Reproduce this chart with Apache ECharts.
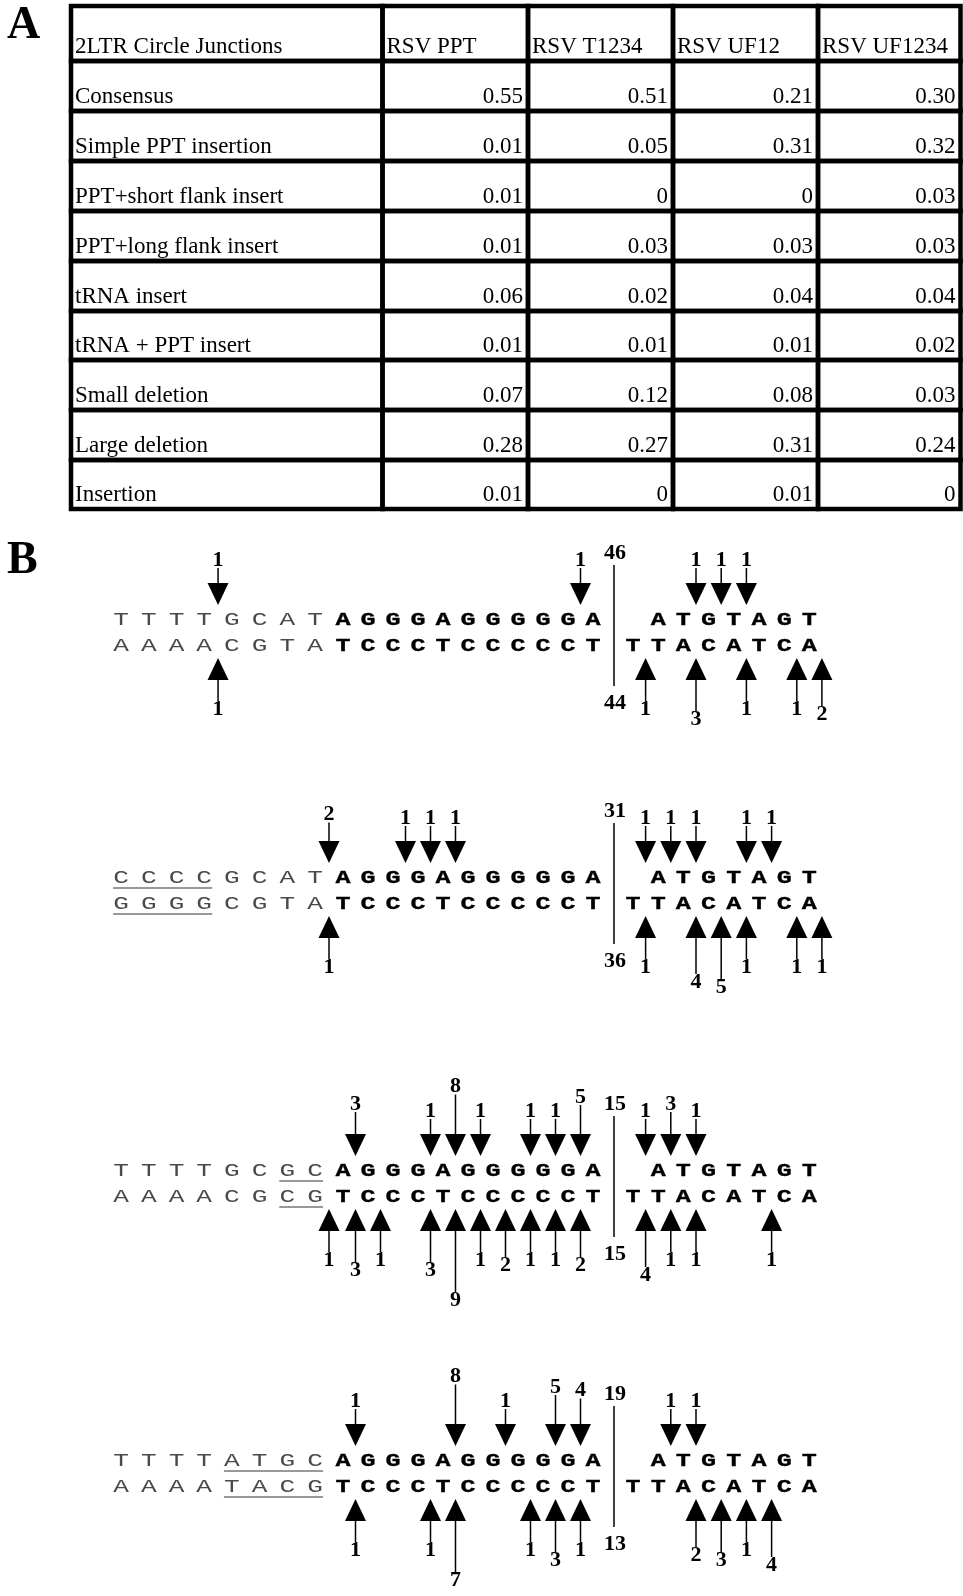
<!DOCTYPE html>
<html>
<head>
<meta charset="utf-8">
<script src="https://cdn.jsdelivr.net/npm/echarts@6/dist/echarts.min.js"></script>
<style>
html,body{margin:0;padding:0;background:#fff;}
#chart{width:963px;height:1596px;}
</style>
</head>
<body>
<div id="chart"></div>
<script>
// ================= DATA =================
// Panel A : fraction of 2-LTR circle junction types
const tableCorner = '2LTR Circle Junctions';
const strains = ['RSV PPT', 'RSV T1234', 'RSV UF12', 'RSV UF1234'];
const junctionTypes = ['Consensus', 'Simple PPT insertion', 'PPT+short flank insert', 'PPT+long flank insert',
  'tRNA insert', 'tRNA + PPT insert', 'Small deletion', 'Large deletion', 'Insertion'];
const rsvPPT    = [0.55, 0.01, 0.01, 0.01, 0.06, 0.01, 0.07, 0.28, 0.01];
const rsvT1234  = [0.51, 0.05, 0,    0.03, 0.02, 0.01, 0.12, 0.27, 0];
const rsvUF12   = [0.21, 0.31, 0,    0.03, 0.04, 0.01, 0.08, 0.31, 0.01];
const rsvUF1234 = [0.30, 0.32, 0.03, 0.03, 0.04, 0.02, 0.03, 0.24, 0];

// Panel B : junction sequences (slots 0-7 flank, 8-18 PPT, 19-26 U3)
const flankTop    = ['TTTTGCAT', 'CCCCGCAT', 'TTTTGCGC', 'TTTTATGC'];
const flankBottom = ['AAAACGTA', 'GGGGCGTA', 'AAAACGCG', 'AAAATACG'];
const pptTop    = 'AGGGAGGGGGA';
const pptBottom = 'TCCCTCCCCCT';
const u3Top     = 'ATGTAGT';
const u3Bottom  = 'TTACATCA';
const underlinedFlank = [null, [0, 3], [6, 7], [4, 7]];
const junctionCountTop    = [46, 31, 15, 19];
const junctionCountBottom = [44, 36, 15, 13];
// [site, count]; site g lies between slot g-1 and slot g
const cutsTop = [
  [[4,1],[18,1],[22,1],[23,1],[24,1]],
  [[8,2],[11,1],[12,1],[13,1],[20,1],[21,1],[22,1],[24,1],[25,1]],
  [[9,3],[12,1],[13,8],[14,1],[16,1],[17,1],[18,5],[20,1],[21,3],[22,1]],
  [[9,1],[13,8],[15,1],[17,5],[18,4],[21,1],[22,1]]
];
const cutsBottom = [
  [[4,1],[20,1],[22,3],[24,1],[26,1],[27,2]],
  [[8,1],[20,1],[22,4],[23,5],[24,1],[26,1],[27,1]],
  [[8,1],[9,3],[10,1],[12,3],[13,9],[14,1],[15,2],[16,1],[17,1],[18,2],[20,4],[21,1],[22,1],[25,1]],
  [[9,1],[12,1],[13,7],[16,1],[17,3],[18,1],[22,2],[23,3],[24,1],[25,4]]
];

// ================= LAYOUT / STYLE =================
const SERIF = '"Liberation Serif","Times New Roman",Times,serif';
const MONO = '"Liberation Mono","Courier New",Courier,monospace';
const TABLE_BOX = {left: 71, top: 6};
const TABLE_COL_W = [311.5, 145.5, 145, 145, 142.5];
const TABLE_ROW_H = [55, 50, 50, 50, 50, 50, 49, 50, 50, 49];
const PANEL_TOPS = [620, 878, 1171, 1461];
const STRAND_GAP = 26;
const X_MIN = -5.72, X_MAX = 32.8;   // axis unit = one PPT slot
const BAR_X = 18.84;
function slotX(s) {
  if (s <= 7) return 6.88 - 1.108 * (7 - s);
  if (s <= 18) return s;
  return 19.6 + 1.008 * (s - 19);
}
function siteX(g) { return g >= 27 ? slotX(26) + 0.5 : (slotX(g - 1) + slotX(g)) / 2; }
function cumulative(a) { const r = [0]; a.forEach(v => r.push(r[r.length - 1] + v)); return r; }
const colEdges = cumulative(TABLE_COL_W);
const rowEdges = cumulative(TABLE_ROW_H);

// ================= BUILD =================
const valueCols = [rsvPPT, rsvT1234, rsvUF12, rsvUF1234];
const fmt = v => v === 0 ? '0' : v.toFixed(2);
const cells = [];
for (let r = 0; r <= junctionTypes.length; r++) {
  for (let c = 0; c <= strains.length; c++) {
    let text, align;
    if (r === 0) { text = c === 0 ? tableCorner : strains[c - 1]; align = 'left'; }
    else if (c === 0) { text = junctionTypes[r - 1]; align = 'left'; }
    else { text = fmt(valueCols[c - 1][r - 1]); align = 'right'; }
    cells.push({value: [colEdges[c], rowEdges[r], colEdges[c + 1], rowEdges[r + 1]], text, align});
  }
}

const grids = [{left: TABLE_BOX.left, top: TABLE_BOX.top, width: colEdges[colEdges.length - 1], height: rowEdges[rowEdges.length - 1]}];
const xAxes = [{type: 'value', gridIndex: 0, min: 0, max: colEdges[colEdges.length - 1], show: false}];
const yAxes = [{type: 'value', gridIndex: 0, min: 0, max: rowEdges[rowEdges.length - 1], inverse: true, show: false}];
const series = [];

series.push({
  type: 'custom', xAxisIndex: 0, yAxisIndex: 0, clip: false, silent: true,
  data: cells.map(d => d.value),
  renderItem: (params, api) => {
    const d = cells[params.dataIndex];
    const p0 = api.coord([api.value(0), api.value(1)]);
    const p1 = api.coord([api.value(2), api.value(3)]);
    return {type: 'group', children: [
      {type: 'rect', shape: {x: p0[0], y: p0[1], width: p1[0] - p0[0], height: p1[1] - p0[1]},
        style: {fill: 'transparent', stroke: '#000', lineWidth: 4.5}},
      {type: 'text', x: d.align === 'left' ? p0[0] + 4 : p1[0] - 5, y: p1[1] - 14.5,
        style: {text: d.text, font: '23px ' + SERIF, fill: '#000', align: d.align, verticalAlign: 'middle',
          textAlign: d.align, textVerticalAlign: 'middle'}}
    ]};
  }
});

for (let p = 0; p < 4; p++) {
  const gi = p + 1;
  grids.push({left: 0, top: PANEL_TOPS[p], width: 963, height: STRAND_GAP});
  xAxes.push({type: 'value', gridIndex: gi, min: X_MIN, max: X_MAX, show: false});
  yAxes.push({type: 'value', gridIndex: gi, min: 0, max: 1, show: false});

  // letters
  const letters = [];
  const add = (seq, start, strand, kind) => { for (let i = 0; i < seq.length; i++) letters.push({value: [slotX(start + i), strand], ch: seq[i], kind}); };
  add(flankTop[p], 0, 1, 'thin'); add(flankBottom[p], 0, 0, 'thin');
  add(pptTop, 8, 1, 'bold'); add(pptBottom, 8, 0, 'bold');
  add(u3Top, 20, 1, 'bold'); add(u3Bottom, 19, 0, 'bold');
  series.push({
    type: 'custom', xAxisIndex: gi, yAxisIndex: gi, clip: false, silent: true,
    data: letters.map(d => d.value),
    renderItem: (params, api) => {
      const d = letters[params.dataIndex];
      const pt = api.coord([api.value(0), api.value(1)]);
      const thin = d.kind === 'thin';
      return {type: 'text', x: pt[0], y: pt[1], scaleX: thin ? 1.45 : 1.32,
        style: {text: d.ch, font: (thin ? '' : 'bold ') + (thin ? '18px ' : '19px ') + MONO,
          fill: thin ? '#4a4a4a' : '#000', stroke: thin ? null : '#000', lineWidth: thin ? 0 : 0.3,
          align: 'center', verticalAlign: 'middle', textAlign: 'center', textVerticalAlign: 'middle'}};
    }
  });

  // underlines
  if (underlinedFlank[p]) {
    const u = underlinedFlank[p];
    series.push({
      type: 'custom', xAxisIndex: gi, yAxisIndex: gi, clip: false, silent: true,
      data: [[slotX(u[0]), 1, slotX(u[1])], [slotX(u[0]), 0, slotX(u[1])]],
      renderItem: (params, api) => {
        const a = api.coord([api.value(0), api.value(1)]);
        const b = api.coord([api.value(2), api.value(1)]);
        return {type: 'line', shape: {x1: a[0] - 8, y1: a[1] + 10, x2: b[0] + 8, y2: b[1] + 10},
          style: {stroke: '#777', lineWidth: 1.5}};
      }
    });
  }

  // junction bar with counts
  const bar = [{value: [BAR_X, 1, 0], top: junctionCountTop[p], bottom: junctionCountBottom[p]}];
  series.push({
    type: 'custom', xAxisIndex: gi, yAxisIndex: gi, clip: false, silent: true,
    data: bar.map(d => d.value),
    renderItem: (params, api) => {
      const d = bar[params.dataIndex];
      const a = api.coord([api.value(0), api.value(1)]);
      const b = api.coord([api.value(0), api.value(2)]);
      const font = 'bold 22px ' + SERIF;
      return {type: 'group', children: [
        {type: 'line', shape: {x1: a[0], y1: a[1] - 55, x2: b[0], y2: b[1] + 40}, style: {stroke: '#000', lineWidth: 1.5}},
        {type: 'text', x: a[0] + 1, y: a[1] - 67, style: {text: String(d.top), font, fill: '#000', align: 'center', verticalAlign: 'middle', textAlign: 'center', textVerticalAlign: 'middle'}},
        {type: 'text', x: b[0] + 1, y: b[1] + 57, style: {text: String(d.bottom), font, fill: '#000', align: 'center', verticalAlign: 'middle', textAlign: 'center', textVerticalAlign: 'middle'}}
      ]};
    }
  });

  // cut-site arrows
  const cuts = cutsTop[p].map(c => ({value: [siteX(c[0]), 1, c[1]], strand: 1}))
    .concat(cutsBottom[p].map(c => ({value: [siteX(c[0]), 0, c[1]], strand: 0})));
  series.push({
    type: 'custom', xAxisIndex: gi, yAxisIndex: gi, clip: false, silent: true,
    data: cuts.map(d => d.value),
    renderItem: (params, api) => {
      const d = cuts[params.dataIndex];
      const count = api.value(2);
      const pt = api.coord([api.value(0), api.value(1)]);
      const x = pt[0];
      const top = d.strand === 1;
      const dir = top ? -1 : 1;
      const tip = pt[1] + dir * (top ? 15 : 12);
      const headEnd = tip + dir * 22;
      const labelY = pt[1] + dir * ((top ? 60 : 63) + (top ? 3.5 : 5) * (count - 1));
      const shaftEnd = labelY - dir * 8;
      return {type: 'group', children: [
        {type: 'line', shape: {x1: x, y1: headEnd, x2: x, y2: shaftEnd}, style: {stroke: '#000', lineWidth: 1.5}},
        {type: 'polygon', shape: {points: [[x - 10.5, headEnd], [x + 10.5, headEnd], [x, tip]]}, style: {fill: '#000'}},
        {type: 'text', x: x, y: labelY, style: {text: String(count), font: 'bold 22px ' + SERIF, fill: '#000',
          align: 'center', verticalAlign: 'middle', textAlign: 'center', textVerticalAlign: 'middle'}}
      ]};
    }
  });
}

const chart = echarts.init(document.getElementById('chart'), null, {renderer: 'canvas', width: 963, height: 1596});
chart.setOption({
  animation: false,
  backgroundColor: '#fff',
  title: [
    {text: 'A', left: 7, top: 3, padding: 0, textStyle: {fontFamily: SERIF, fontWeight: 'bold', fontSize: 46, color: '#000'}},
    {text: 'B', left: 7, top: 538, padding: 0, textStyle: {fontFamily: SERIF, fontWeight: 'bold', fontSize: 46, color: '#000'}}
  ],
  grid: grids,
  xAxis: xAxes,
  yAxis: yAxes,
  series: series
});
</script>
</body>
</html>
